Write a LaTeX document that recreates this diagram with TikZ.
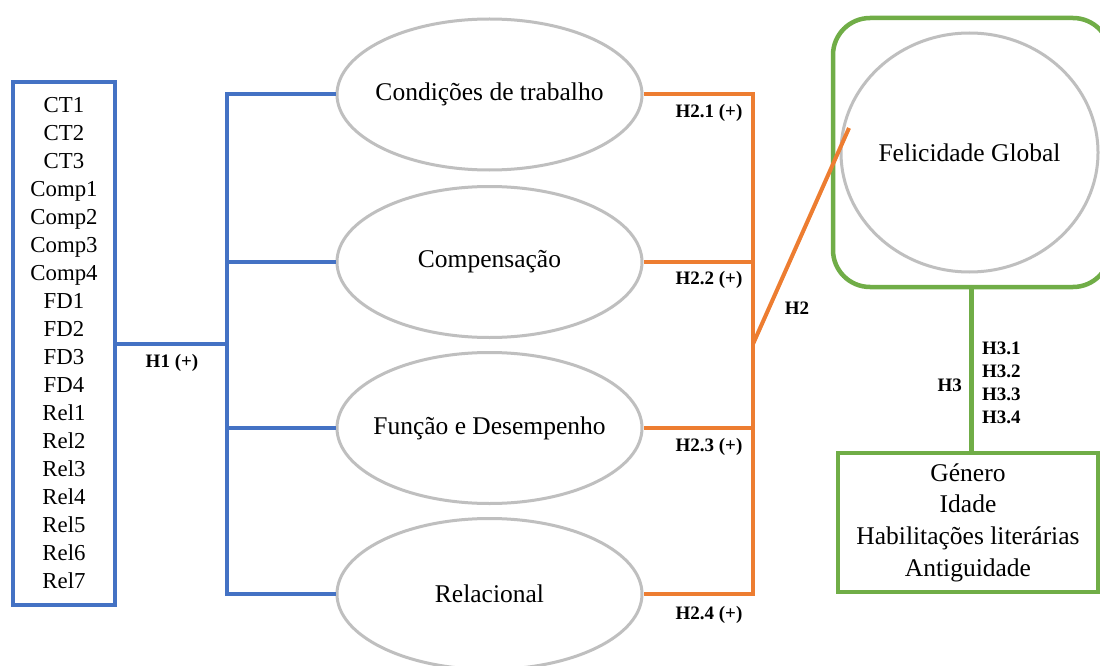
\documentclass[tikz,border=0pt]{standalone}
\usepackage{fontspec}
\setmainfont{Liberation Serif}
\usetikzlibrary{shapes.geometric}
\definecolor{cblue}{HTML}{4472C4}
\definecolor{corange}{HTML}{ED7D31}
\definecolor{cgreen}{HTML}{70AD47}
\definecolor{cgray}{HTML}{BFBFBF}
\newcommand{\zw}[1]{\makebox[0pt]{#1}}
\begin{document}
\begin{tikzpicture}[x=1pt,y=-1pt,
 construct/.style={ellipse, draw=cgray, line width=3pt, minimum width=305pt, minimum height=151pt, inner sep=0pt, font=\fontsize{25.5}{30}\selectfont},
 hlab/.style={font=\bfseries\fontsize{19}{23}\selectfont, inner sep=0pt},
 bluel/.style={draw=cblue, line width=4pt},
 orangel/.style={draw=corange, line width=4pt},
 greenl/.style={draw=cgreen, line width=4.5pt}]
\clip (0,0) rectangle (1100,666);
\fill[white] (0,0) rectangle (1100,666);

% indicator box
\node[draw=cblue, line width=4pt, minimum width=102pt, minimum height=523pt, inner sep=0pt, align=center, font=\fontsize{22.8}{28}\selectfont] (items) at (64,343.5)
 {CT1\\CT2\\CT3\\Comp1\\Comp2\\Comp3\\Comp4\\FD1\\FD2\\FD3\\FD4\\Rel1\\Rel2\\Rel3\\Rel4\\Rel5\\Rel6\\Rel7};

% constructs
\node[construct] (e1) at (489.5,94.5) {\zw{Condições de trabalho}};
\node[construct] (e2) at (489.5,262) {\zw{Compensação}};
\node[construct] (e3) at (489.5,428) {\zw{Função e Desempenho}};
\node[construct] (e4) at (489.5,594) {\zw{Relacional}};

% global happiness
\node[draw=cgreen, line width=4.5pt, rounded corners=37pt, minimum width=277pt, minimum height=269pt, inner sep=0pt] (fgbox) at (971.5,152.5) {};
\node[ellipse, draw=cgray, line width=3pt, minimum width=257pt, minimum height=239pt, inner sep=0pt, font=\fontsize{25.5}{30}\selectfont] (fg) at (969.5,152.5) {\zw{Felicidade Global}};

% controls
\node[draw=cgreen, line width=4.5pt, minimum width=260pt, minimum height=139pt, inner sep=0pt, align=center, font=\fontsize{25.5}{31.7}\selectfont] (ctrl) at (968,522.5)
 {Género\\Idade\\Habilitações literárias\\Antiguidade};

% blue connectors
\coordinate (bj) at (227,344);
\draw[bluel] (items.east |- bj) -- (bj);
\draw[bluel] (e1.west) -- (bj |- e1) -- (bj |- e4) -- (e4.west);
\draw[bluel] (bj |- e2) -- (e2.west);
\draw[bluel] (bj |- e3) -- (e3.west);

% orange connectors
\coordinate (oj) at (753,344);
\coordinate (ftip) at (849,128);
\draw[orangel] (e1.east) -- (oj |- e1) -- (oj |- e4) -- (e4.east);
\draw[orangel] (e2.east) -- (oj |- e2);
\draw[orangel] (e3.east) -- (oj |- e3);
\draw[orangel] (oj) -- (ftip);

% green connector
\draw[greenl] (fgbox.south) -- (fgbox.south |- ctrl.north);

% labels
\node[hlab] (h1) at (172,363) {H1 (+)};
\node[hlab] (h21) at (709,113) {H2.1 (+)};
\node[hlab] (h22) at (709,280) {H2.2 (+)};
\node[hlab] (h23) at (709,447) {H2.3 (+)};
\node[hlab] (h24) at (709,615) {H2.4 (+)};
\node[hlab] (h2) at (797,308) {H2};
\node[hlab, anchor=east] (h3) at (962,385) {H3};
\node[hlab, anchor=west, align=left] (h3x) at (982,382.5) {H3.1\\H3.2\\H3.3\\H3.4};
\end{tikzpicture}
\end{document}
